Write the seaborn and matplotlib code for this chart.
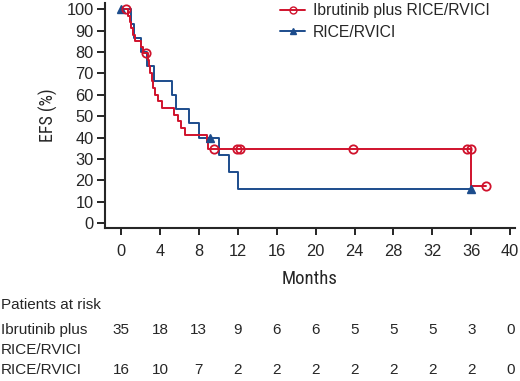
import numpy as np
import pandas as pd
import matplotlib
matplotlib.use("Agg")
import matplotlib.pyplot as plt
import matplotlib.transforms as mtransforms
import seaborn as sns

# ---- data ----
ibr_times = [0, 0.75, 0.9, 1.0, 1.2, 1.4, 2.0, 2.3, 2.8, 2.9, 3.0, 3.15, 3.3, 3.5, 3.8,
             4.2, 5.4, 5.9, 6.2, 6.6, 8.8, 8.9, 36.0, 37.5]
ibr_surv = [100, 97.1, 94.1, 91.2, 88.2, 85.3, 82.4, 79.4, 76.4, 73.3, 70.3, 66.5, 63.0,
            60.0, 57.0, 53.8, 50.7, 47.6, 44.5, 41.2, 38.0, 34.7, 17.4, 17.4]
ibr_cens_t = [0.5, 2.6, 9.6, 11.9, 12.2, 23.8, 35.6, 36.0, 37.5]
ibr_cens_s = [100, 79.4, 34.7, 34.7, 34.7, 34.7, 34.7, 34.7, 17.4]

rice_times = [0, 1.0, 1.3, 2.0, 2.7, 3.4, 5.2, 5.7, 7.0, 8.0, 10.1, 11.1, 12.0, 36.0]
rice_surv = [100, 93.3, 86.7, 80.0, 73.3, 66.7, 60.0, 53.3, 46.7, 40.0, 32.0, 24.0, 16.0, 16.0]
rice_cens_t = [0, 9.1, 36.0]
rice_cens_s = [100, 40.0, 16.0]

risk_months = [0, 4, 8, 12, 16, 20, 24, 28, 32, 36, 40]
risk_ibr = [35, 18, 13, 9, 6, 6, 5, 5, 5, 3, 0]
risk_rice = [16, 10, 7, 2, 2, 2, 2, 2, 2, 2, 0]

red = "#d0122c"
blue = "#1c4c8c"

sns.set_style("ticks")
plt.rcParams["font.family"] = ["Liberation Sans", "DejaVu Sans"]

fig = plt.figure(figsize=(5.2, 3.81), dpi=100)
ax = fig.add_axes([105 / 520, 1 - 227.7 / 381, 410 / 520, 224.7 / 381])

df_ibr = pd.DataFrame({"Months": ibr_times, "EFS": ibr_surv})
df_rice = pd.DataFrame({"Months": rice_times, "EFS": rice_surv})

sns.lineplot(data=df_rice, x="Months", y="EFS", ax=ax, color=blue, lw=1.4,
             drawstyle="steps-post", estimator=None)
sns.lineplot(data=df_ibr, x="Months", y="EFS", ax=ax, color=red, lw=1.4,
             drawstyle="steps-post", estimator=None)

ax.plot(rice_cens_t, rice_cens_s, ls="none", marker="^", ms=5.5, color=blue)
ax.plot(ibr_cens_t, ibr_cens_s, ls="none", marker="o", ms=6, mfc="none",
        mec=red, mew=1.3)

# legend handles
ax.plot([], [], color=red, lw=1.4, marker="o", ms=5, mfc="none", mec=red,
        label="Ibrutinib plus RICE/RVICI")
ax.plot([], [], color=blue, lw=1.4, marker="^", ms=4.5, label="RICE/RVICI")
h, l = ax.get_legend_handles_labels()
ax.legend(h[-2:], l[-2:], loc="upper left", bbox_to_anchor=(0.427, 1.0),
          frameon=False, fontsize=11.3, handlelength=1.6, handletextpad=0.5,
          labelspacing=0.42, borderaxespad=0, borderpad=0)

ax.set_xlim(-1.65, 40.5)
ax.set_ylim(-2.2, 103)
ax.set_xticks(risk_months)
ax.set_yticks(np.arange(0, 101, 10))
ax.tick_params(labelsize=11.8, width=1.2, color="black")
ax.tick_params(axis="x", length=5, pad=7)
ax.tick_params(axis="y", length=6, pad=2)
for s in ["left", "bottom"]:
    ax.spines[s].set_linewidth(1.5)
sns.despine(ax=ax)

cond = ["Liberation Sans Narrow", "Roboto Condensed", "Liberation Sans"]
ax.set_xlabel("Months", fontsize=13.5, family=cond, labelpad=8)
ax.set_ylabel("EFS (%)", fontsize=13, family=cond, labelpad=6)

# risk table
trans = mtransforms.blended_transform_factory(ax.transData, fig.transFigure)
fs = 11
fig.text(1 / 520, 1 - 305 / 381, "Patients at risk", fontsize=fs, va="center")
fig.text(1 / 520, 1 - 330 / 381, "Ibrutinib plus", fontsize=fs, va="center")
fig.text(1 / 520, 1 - 350 / 381, "RICE/RVICI", fontsize=fs, va="center")
fig.text(1 / 520, 1 - 370 / 381, "RICE/RVICI", fontsize=fs, va="center")
for m, a, b in zip(risk_months, risk_ibr, risk_rice):
    ax.text(m, 1 - 330 / 381, str(a), transform=trans, ha="center", va="center", fontsize=fs)
    ax.text(m, 1 - 370 / 381, str(b), transform=trans, ha="center", va="center", fontsize=fs)

fig.savefig("out.png", dpi=100)
